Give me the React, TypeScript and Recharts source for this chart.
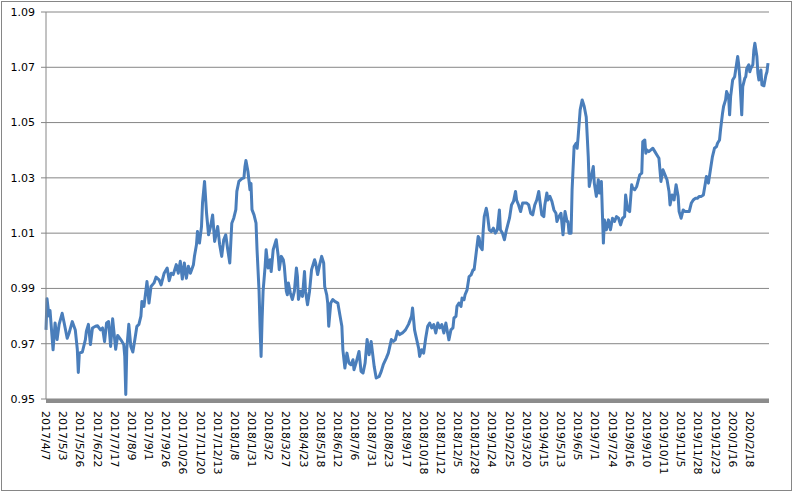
import { LineChart, Line, XAxis, YAxis, CartesianGrid } from "recharts"

// trading-day labels shown under the axis (one every 17 trading days)
const dateLabels = [
  "2017/4/7", "2017/5/3", "2017/5/26", "2017/6/22", "2017/7/17", "2017/8/9", "2017/9/1",
  "2017/9/26", "2017/10/26", "2017/11/20", "2017/12/13", "2018/1/8", "2018/1/31", "2018/3/2",
  "2018/3/27", "2018/4/23", "2018/5/18", "2018/6/12", "2018/7/6", "2018/7/31", "2018/8/23",
  "2018/9/17", "2018/10/18", "2018/11/12", "2018/12/5", "2018/12/28", "2019/1/24", "2019/2/25",
  "2019/3/20", "2019/4/15", "2019/5/13", "2019/6/5", "2019/7/1", "2019/7/24", "2019/8/16",
  "2019/9/10", "2019/10/11", "2019/11/5", "2019/11/28", "2019/12/23", "2020/1/16", "2020/2/18",
]
const LABEL_STEP = 17
const LAST_DAY = 716

const yTicks = [0.95, 0.97, 0.99, 1.01, 1.03, 1.05, 1.07, 1.09]

// trading-day position of each sampled point
const dayIndex = [
  0, 1, 3, 4, 7, 9, 11, 13, 16, 18, 21, 23, 26, 29, 31, 32, 33, 36, 39, 40,
  42, 44, 46, 49, 51, 54, 56, 58, 60, 62, 64, 66, 69, 71, 74, 77, 78, 79, 80, 82,
  84, 86, 88, 90, 92, 94, 95, 97, 99, 100, 102, 104, 107, 109, 112, 114, 117, 120, 122, 124,
  126, 129, 131, 133, 135, 137, 139, 141, 143, 146, 147, 149, 150, 152, 154, 155, 157, 159, 161, 163,
  165, 167, 170, 172, 174, 176, 178, 180, 182, 184, 186, 188, 189, 191, 194, 196, 197, 198, 200, 202,
  203, 204, 206, 208, 209, 211, 212, 213, 214, 215, 217, 218, 220, 222, 223, 225, 228, 230, 231, 233,
  235, 236, 238, 239, 240, 242, 244, 246, 248, 249, 250, 252, 254, 256, 257, 259, 261, 263, 266, 267,
  269, 271, 273, 275, 276, 278, 279, 280, 282, 284, 286, 289, 291, 293, 294, 296, 298, 300, 302, 304,
  305, 307, 310, 312, 314, 316, 318, 320, 322, 324, 325, 327, 330, 332, 334, 337, 339, 342, 344, 346,
  348, 350, 353, 356, 359, 362, 363, 365, 366, 369, 370, 372, 374, 376, 378, 380, 382, 384, 386, 388,
  390, 392, 394, 396, 398, 399, 401, 403, 404, 406, 407, 409, 411, 412, 414, 415, 417, 419, 421, 423,
  424, 426, 428, 429, 430, 432, 433, 434, 436, 437, 439, 441, 443, 445, 447, 449, 450, 452, 454, 456,
  459, 461, 463, 465, 466, 468, 470, 472, 474, 476, 478, 480, 482, 484, 486, 488, 489, 491, 493, 494,
  496, 497, 499, 501, 503, 505, 506, 508, 510, 512, 513, 514, 516, 517, 518, 520, 521, 523, 525, 526,
  527, 529, 531, 533, 535, 536, 537, 538, 540, 542, 543, 545, 547, 548, 550, 551, 552, 553, 555, 557,
  559, 561, 563, 565, 567, 569, 571, 573, 574, 576, 578, 580, 581, 583, 585, 588, 590, 591, 593, 594,
  595, 597, 599, 601, 603, 605, 607, 608, 609, 611, 613, 615, 617, 618, 620, 622, 624, 626, 627, 629,
  631, 633, 635, 637, 639, 641, 643, 645, 647, 649, 651, 653, 654, 656, 658, 660, 662, 664, 665, 667,
  668, 670, 671, 673, 674, 676, 677, 678, 680, 682, 684, 685, 686, 687, 689, 690, 692, 693, 694, 696,
  697, 698, 700, 701, 702, 704, 705, 706, 708, 709, 711, 713, 714, 715,
]

// net value
const navValues = [
  0.975, 0.9863, 0.98, 0.982, 0.9678, 0.9775, 0.9715, 0.977, 0.981, 0.9775, 0.972, 0.974, 0.978, 0.975, 0.968, 0.9596, 0.9666, 0.967, 0.9715, 0.9745,
  0.977, 0.9697, 0.9757, 0.9763, 0.9765, 0.975, 0.9757, 0.9708, 0.9775, 0.978, 0.969, 0.979, 0.968, 0.973, 0.9715, 0.9697, 0.9654, 0.9516, 0.968, 0.977,
  0.969, 0.967, 0.9715, 0.9763, 0.977, 0.98, 0.9853, 0.9835, 0.9895, 0.9925, 0.9847, 0.9907, 0.992, 0.9941, 0.9931, 0.9913, 0.9955, 0.9974, 0.9928, 0.9955,
  0.995, 0.9986, 0.9955, 0.9998, 0.9934, 0.9992, 0.9937, 0.998, 0.9955, 0.9986, 1.0016, 1.0058, 1.0106, 1.0064, 1.0124, 1.0209, 1.0287, 1.0172, 1.0094, 1.0124,
  1.0166, 1.007, 1.0124, 1.0058, 1.0016, 1.0076, 1.0094, 1.004, 0.9992, 1.0136, 1.0155, 1.0185, 1.0251, 1.0287, 1.0297, 1.03, 1.034, 1.0363, 1.0323, 1.0257,
  1.028, 1.0185, 1.0166, 1.0136, 1.004, 0.989, 0.976, 0.9654, 0.9787, 0.989, 0.998, 1.004, 0.9974, 1.0004, 0.9961, 1.004, 1.0076, 1.0016, 0.9968, 1.0016,
  1.0004, 0.998, 0.989, 0.9877, 0.992, 0.9883, 0.986, 0.989, 0.9974, 0.9943, 0.986, 0.989, 0.9871, 0.9961, 0.989, 0.9841, 0.989, 0.9968, 1.0004, 0.9992,
  0.995, 0.9986, 1.0016, 0.9992, 0.9907, 0.9877, 0.9847, 0.9763, 0.9847, 0.986, 0.9853, 0.9847, 0.9805, 0.9763, 0.9678, 0.9612, 0.9666, 0.963, 0.9624, 0.9642,
  0.9606, 0.963, 0.9672, 0.96, 0.9594, 0.963, 0.9715, 0.966, 0.9708, 0.9648, 0.9618, 0.9576, 0.9582, 0.96, 0.9624, 0.9648, 0.9666, 0.9715, 0.9708, 0.9715,
  0.9745, 0.9733, 0.9739, 0.975, 0.977, 0.9799, 0.9829, 0.975, 0.9733, 0.9684, 0.9654, 0.9678, 0.9666, 0.972, 0.9763, 0.9775, 0.9757, 0.9769, 0.9739, 0.9775,
  0.9757, 0.9769, 0.9739, 0.9775, 0.9733, 0.9714, 0.975, 0.9757, 0.9793, 0.9799, 0.9835, 0.9847, 0.9835, 0.9865, 0.9859, 0.9877, 0.9895, 0.9943, 0.9949, 0.9968,
  0.9968, 1.0028, 1.0088, 1.0082, 1.0052, 1.004, 1.0112, 1.016, 1.019, 1.0172, 1.0112, 1.0106, 1.0118, 1.01, 1.0112, 1.0184, 1.0112, 1.01, 1.0076, 1.0112,
  1.0154, 1.0202, 1.0215, 1.0251, 1.022, 1.0202, 1.0178, 1.0209, 1.0209, 1.0209, 1.0202, 1.0172, 1.0166, 1.0202, 1.022, 1.0251, 1.022, 1.0166, 1.016, 1.0202,
  1.0245, 1.022, 1.0233, 1.0215, 1.0184, 1.0172, 1.0142, 1.016, 1.0172, 1.0094, 1.0136, 1.0178, 1.0142, 1.0142, 1.01, 1.01, 1.0257, 1.0413, 1.0425, 1.0407,
  1.0449, 1.0546, 1.0582, 1.0558, 1.052, 1.045, 1.0377, 1.0269, 1.0305, 1.0341, 1.0281, 1.0233, 1.0293, 1.0245, 1.0287, 1.0172, 1.0064, 1.0148, 1.0112, 1.0148,
  1.0112, 1.0154, 1.0142, 1.016, 1.0154, 1.013, 1.0154, 1.016, 1.0238, 1.0184, 1.0178, 1.0275, 1.0263, 1.0257, 1.0269, 1.0311, 1.0317, 1.0431, 1.0437, 1.0389,
  1.0401, 1.0395, 1.0401, 1.0407, 1.0395, 1.0383, 1.0371, 1.0329, 1.0287, 1.0329, 1.0311, 1.0293, 1.0251, 1.0202, 1.0238, 1.022, 1.0275, 1.0233, 1.0178, 1.0154,
  1.0184, 1.0178, 1.0178, 1.0178, 1.0208, 1.022, 1.0226, 1.0226, 1.0233, 1.0233, 1.0238, 1.0281, 1.0305, 1.0281, 1.0329, 1.0377, 1.0407, 1.0413, 1.0425, 1.0437,
  1.0474, 1.0534, 1.0558, 1.0582, 1.0612, 1.0594, 1.0528, 1.0594, 1.0654, 1.0666, 1.0715, 1.0739, 1.0709, 1.0666, 1.0528, 1.063, 1.066, 1.0666, 1.0696, 1.0709,
  1.0684, 1.0696, 1.0709, 1.0763, 1.0787, 1.0739, 1.0678, 1.0654, 1.069, 1.0636, 1.0633, 1.0672, 1.0684, 1.0715,
]

const rows = dayIndex.map((d, k) => ({ day: d, nav: navValues[k] }))
const xTicks = dateLabels.map((_, k) => k * LABEL_STEP)

const FONT = "DejaVu Sans, Verdana, sans-serif"

function DateTick({ x, y, payload }: any) {
  const label = dateLabels[Math.round(payload.value / LABEL_STEP)]
  return (
    <text
      transform={`translate(${x},${y}) rotate(90)`}
      dy="0.35em"
      textAnchor="start"
      fontSize={11}
      fontFamily={FONT}
      fill="#000"
    >
      {label}
    </text>
  )
}

export default function App() {
  return (
    <div style={{ position: "absolute", left: 0, top: 0, width: 794, height: 493, background: "#fff" }}>
      <div
        style={{
          position: "absolute",
          left: 1,
          top: 1,
          width: 791,
          height: 490,
          boxSizing: "border-box",
          border: "1px solid #868686",
        }}
      />
      <LineChart
        width={794}
        height={493}
        data={rows}
        margin={{ top: 12, right: 25, bottom: 0, left: 6 }}
        style={{ position: "absolute", left: 0, top: 0 }}
      >
        <CartesianGrid vertical={false} stroke="#868686" />
        <XAxis
          dataKey="day"
          type="number"
          domain={[0, LAST_DAY]}
          ticks={xTicks}
          interval={0}
          height={94}
          tickLine={false}
          tickSize={0}
          tickMargin={12}
          axisLine={{ stroke: "#8c8c8c", strokeWidth: 4, transform: "translate(0,2)" }}
          tick={<DateTick />}
        />
        <YAxis
          type="number"
          domain={[0.95, 1.09]}
          ticks={yTicks}
          interval={0}
          width={40}
          tickSize={5}
          tickMargin={6}
          tickFormatter={(v: number) => v.toFixed(2)}
          axisLine={{ stroke: "#868686" }}
          tickLine={{ stroke: "#868686" }}
          tick={{ fill: "#000", fontSize: 11, fontFamily: FONT }}
          allowDataOverflow
        />
        <Line
          type="linear"
          dataKey="nav"
          stroke="#4a7ebb"
          strokeWidth={3}
          strokeLinejoin="round"
          dot={false}
          isAnimationActive={false}
        />
      </LineChart>
    </div>
  )
}
